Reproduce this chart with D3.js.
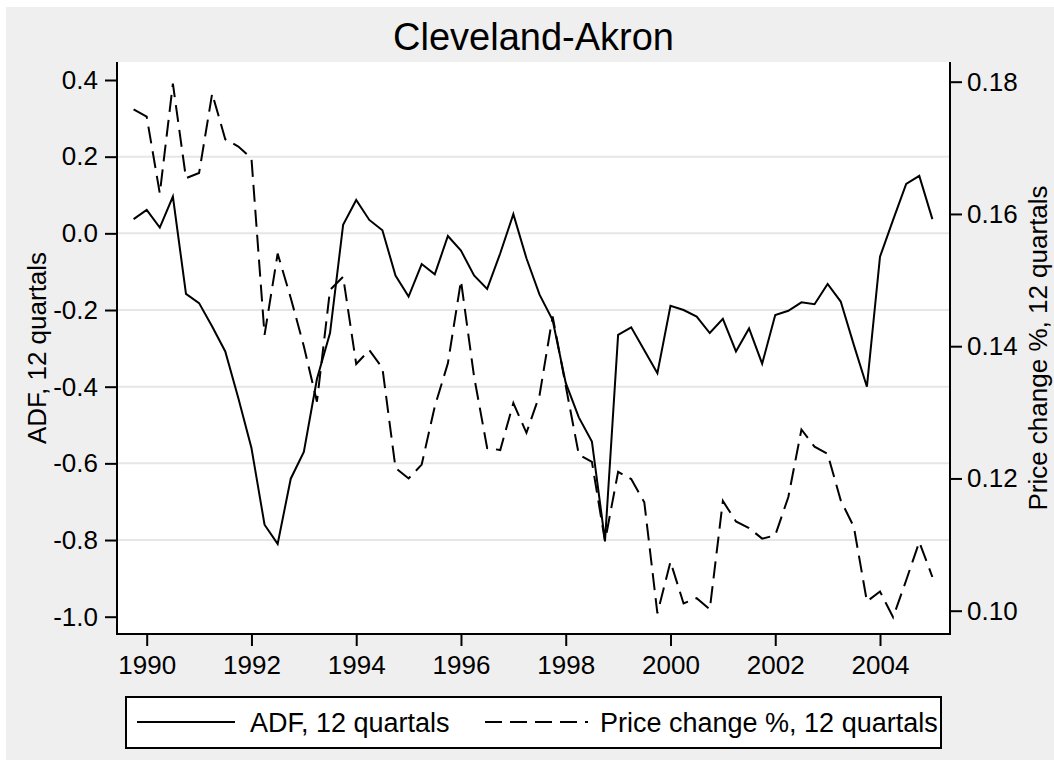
<!DOCTYPE html>
<html>
<head>
<meta charset="utf-8">
<script src="https://cdn.jsdelivr.net/npm/d3@7"></script>
<style>
  html, body { margin: 0; padding: 0; background: #fff; }
  svg { display: block; font-family: "Liberation Sans", Arial, sans-serif; }
</style>
</head>
<body>
<svg id="chart" width="1054" height="760"></svg>
<script>
// quarters 1989Q4 .. 2005Q1
const quarters = d3.range(62).map((i) => 1989.75 + i * 0.25)

const adf = [
  0.037, 0.061, 0.015, 0.096, -0.158, -0.182, -0.243, -0.308,
  -0.43, -0.56, -0.76, -0.81, -0.64, -0.57, -0.38, -0.26,
  0.022, 0.087, 0.035, 0.008, -0.11, -0.165, -0.08, -0.107,
  -0.007, -0.045, -0.11, -0.145, -0.052, 0.05, -0.065, -0.16,
  -0.226, -0.39, -0.48, -0.543, -0.802, -0.265, -0.245, -0.305,
  -0.365, -0.189, -0.2, -0.217, -0.26, -0.223, -0.308, -0.248,
  -0.34, -0.213, -0.202, -0.18, -0.185, -0.132, -0.178, -0.291,
  -0.4, -0.061, 0.035, 0.129, 0.15, 0.037
]

const priceChange = [
  0.1758, 0.1747, 0.1631, 0.1797, 0.1654, 0.1662, 0.1782, 0.1713,
  0.1702, 0.1684, 0.1417, 0.1540, 0.1473, 0.1400, 0.1316, 0.1485,
  0.1505, 0.1373, 0.1394, 0.1367, 0.1216, 0.1200, 0.1221, 0.1309,
  0.1374, 0.1499, 0.1354, 0.1246, 0.1243, 0.1314, 0.1269, 0.1326,
  0.1445, 0.1340, 0.1236, 0.1225, 0.1105, 0.1210, 0.1199, 0.1164,
  0.0996, 0.1074, 0.1011, 0.1019, 0.1002, 0.1166, 0.1135, 0.1125,
  0.1109, 0.1114, 0.1172, 0.1274, 0.1248, 0.1237, 0.1167, 0.1127,
  0.1014, 0.1029, 0.0990, 0.1046, 0.1104, 0.1051
]

const xTicks = [1990, 1992, 1994, 1996, 1998, 2000, 2002, 2004]
const leftTicks = [-1.0, -0.8, -0.6, -0.4, -0.2, 0.0, 0.2, 0.4]
const gridTicks = [-0.8, -0.6, -0.4, -0.2, 0.0, 0.2]
const rightTicks = [0.10, 0.12, 0.14, 0.16, 0.18]

const title = 'Cleveland-Akron'
const leftTitle = 'ADF, 12 quartals'
const rightTitle = 'Price change %, 12 quartals'
const legendLabels = ['ADF, 12 quartals', 'Price change %, 12 quartals']

const plot = { left: 117, right: 950, top: 62, bottom: 634 }
const dashes = '17,8'

const svg = d3.select('#chart')

// gray graph region (image is cropped a few px at top/left)
svg.append('rect')
  .attr('x', 6).attr('y', 7)
  .attr('width', 1054 - 6).attr('height', 760 - 7)
  .attr('fill', '#efefef')

svg.append('rect')
  .attr('x', plot.left).attr('y', plot.top)
  .attr('width', plot.right - plot.left)
  .attr('height', plot.bottom - plot.top)
  .attr('fill', '#fff')

const x = d3.scaleLinear().domain([1990, 2004]).range([146.7, 880])
const yL = d3.scaleLinear().domain([-1.0, 0.4]).range([616.7, 80])
const yR = d3.scaleLinear().domain([0.10, 0.18]).range([610.7, 81.7])

// grid
svg.append('g').selectAll('line')
  .data(gridTicks)
  .enter().append('line')
  .attr('x1', plot.left).attr('x2', plot.right)
  .attr('y1', (d) => yL(d)).attr('y2', (d) => yL(d))
  .attr('stroke', '#e6e6e6')
  .attr('stroke-width', 2)

// series
const adfLine = d3.line()
  .x((d, i) => x(quarters[i]))
  .y((d) => yL(d))

const priceLine = d3.line()
  .x((d, i) => x(quarters[i]))
  .y((d) => yR(d))

svg.append('path')
  .datum(adf)
  .attr('d', adfLine)
  .attr('fill', 'none')
  .attr('stroke', '#000')
  .attr('stroke-width', 2)

svg.append('path')
  .datum(priceChange)
  .attr('d', priceLine)
  .attr('fill', 'none')
  .attr('stroke', '#000')
  .attr('stroke-width', 2)
  .attr('stroke-dasharray', dashes)

// axes (plain hyphen for negatives, like the original)
const hyphen = (fmt) => (d) => fmt(d).replace('\u2212', '-')
const tickFont = 26

const leftAxis = d3.axisLeft(yL)
  .tickValues(leftTicks)
  .tickFormat(hyphen(d3.format('.1f')))
  .tickSize(12)
  .tickPadding(7)

const gLeft = svg.append('g')
  .attr('transform', `translate(${plot.left},0)`)
  .call(leftAxis)

const rightAxis = d3.axisRight(yR)
  .tickValues(rightTicks)
  .tickFormat(d3.format('.2f'))
  .tickSize(12)
  .tickPadding(5)

const gRight = svg.append('g')
  .attr('transform', `translate(${plot.right},0)`)
  .call(rightAxis)

const bottomAxis = d3.axisBottom(x)
  .tickValues(xTicks)
  .tickFormat(d3.format('d'))
  .tickSize(12)
  .tickPadding(10)

const gBottom = svg.append('g')
  .attr('transform', `translate(0,${plot.bottom})`)
  .call(bottomAxis)

for (const g of [gLeft, gRight, gBottom]) {
  g.select('.domain').remove()
  g.selectAll('.tick line').attr('stroke', '#000').attr('stroke-width', 2)
  g.selectAll('.tick text')
    .attr('fill', '#000')
    .style('font-size', tickFont + 'px')
    .style('font-family', '"Liberation Sans", Arial, sans-serif')
}

// axis lines (no top border)
svg.append('path')
  .attr('d', `M${plot.left},${plot.top}V${plot.bottom}H${plot.right}V${plot.top}`)
  .attr('fill', 'none')
  .attr('stroke', '#000')
  .attr('stroke-width', 2)

// titles
svg.append('text')
  .attr('x', (plot.left + plot.right) / 2)
  .attr('y', 50)
  .attr('text-anchor', 'middle')
  .style('font-size', '38px')
  .text(title)

const midY = (plot.top + plot.bottom) / 2

svg.append('text')
  .attr('transform', `translate(46,${midY}) rotate(-90)`)
  .attr('text-anchor', 'middle')
  .style('font-size', '26px')
  .text(leftTitle)

// right title runs into the cropped edge of the image
svg.append('text')
  .attr('transform', `translate(1047,${midY}) rotate(-90)`)
  .attr('text-anchor', 'middle')
  .style('font-size', '26px')
  .text(rightTitle)

// legend
const legend = svg.append('g')

legend.append('rect')
  .attr('x', 126).attr('y', 697)
  .attr('width', 815).attr('height', 51)
  .attr('fill', '#fff')
  .attr('stroke', '#000')
  .attr('stroke-width', 2)

const legendItems = [
  { x1: 137, x2: 235, tx: 250, dash: null },
  { x1: 485, x2: 588, tx: 600, dash: dashes }
]

legendItems.forEach((item, i) => {
  legend.append('line')
    .attr('x1', item.x1).attr('x2', item.x2)
    .attr('y1', 722).attr('y2', 722)
    .attr('stroke', '#000')
    .attr('stroke-width', 2)
    .attr('stroke-dasharray', item.dash)
  legend.append('text')
    .attr('x', item.tx)
    .attr('y', 732)
    .style('font-size', '27px')
    .text(legendLabels[i])
})
</script>
</body>
</html>
